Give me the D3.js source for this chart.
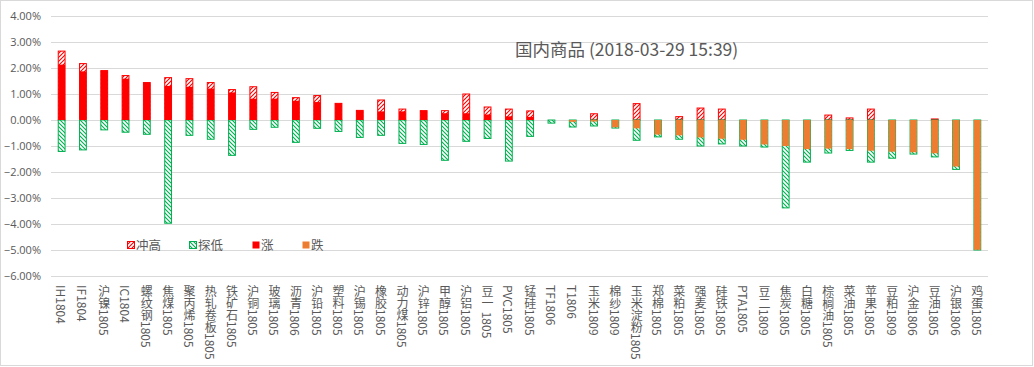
<!DOCTYPE html>
<html><head><meta charset="utf-8">
<script src="https://cdn.jsdelivr.net/npm/d3@7"></script>
<style>
html,body{margin:0;padding:0;background:#fff;}
svg{display:block;font-family:"Noto Sans CJK SC","Noto Sans",sans-serif;}
</style></head>
<body>
<svg id="chart" width="1034" height="367"></svg>
<script>
const categories = ["IH1804","IF1804","沪镍1805","IC1804","螺纹钢1805","焦煤1805","聚丙烯1805","热轧卷板1805","铁矿石1805","沪铜1805","玻璃1805","沥青1806","沪铅1805","塑料1805","沪锡1805","橡胶1805","动力煤1805","沪锌1805","甲醇1805","沪铝1805","豆一 1805","PVC1805","锰硅1805","TF1806","T1806","玉米1809","棉纱1809","玉米淀粉1805","郑棉1805","菜粕1805","强麦1805","硅铁1805","PTA1805","豆二1809","焦炭1805","白糖1805","棕榈油1805","菜油1805","苹果1805","豆粕1809","沪金1806","豆油1805","沪银1806","鸡蛋1805"];
// 冲高 (high, %)
const highVals = [2.65,2.17,1.90,1.71,1.44,1.63,1.59,1.44,1.17,1.28,1.06,0.86,0.94,0.64,0.37,0.77,0.42,0.36,0.36,1.00,0.50,0.42,0.35,0,0,0.24,0,0.63,0,0.13,0.46,0.42,0,0,0,0,0.19,0.08,0.42,0,0,0.04,0,0];
// 探低 (low, %)
const lowVals = [-1.21,-1.15,-0.38,-0.47,-0.55,-3.97,-0.59,-0.74,-1.36,-0.36,-0.28,-0.86,-0.32,-0.44,-0.67,-0.59,-0.90,-0.94,-1.55,-0.82,-0.71,-1.58,-0.63,-0.12,-0.27,-0.23,-0.31,-0.78,-0.65,-0.74,-1.00,-0.92,-1.00,-1.04,-3.38,-1.62,-1.27,-1.17,-1.62,-1.47,-1.31,-1.42,-1.90,-5.00];
// 涨 / 跌 (close change, %)
const changeVals = [2.13,1.87,1.90,1.59,1.44,1.31,1.28,1.21,1.06,0.82,0.82,0.74,0.69,0.64,0.37,0.33,0.33,0.36,0.26,0.26,0.21,0.14,0.12,0,-0.07,-0.06,-0.28,-0.32,-0.56,-0.59,-0.67,-0.72,-0.76,-0.94,-1.00,-1.12,-1.10,-1.12,-1.18,-1.22,-1.24,-1.28,-1.79,-4.99];
const riseVals = changeVals.map(v => v > 0 ? v : 0);
const fallVals = changeVals.map(v => v < 0 ? v : 0);
const yTicks = [4,3,2,1,0,-1,-2,-3,-4,-5,-6];
const legendItems = ["冲高","探低","涨","跌"];
const titleText = "国内商品 (2018-03-29 15:39)";

const svg = d3.select("#chart");
const W = 1034, H = 367;
const m = {left:51, right:988, top:16, bottom:276};

svg.append("rect").attr("x",0.5).attr("y",0.5).attr("width",W-2).attr("height",H-2)
  .attr("fill","#fff").attr("stroke","#D9D9D9");

const defs = svg.append("defs");
function hatch(id, color, dir){
  const p = defs.append("pattern").attr("id",id).attr("patternUnits","userSpaceOnUse")
    .attr("width",4).attr("height",4);
  p.append("rect").attr("width",4).attr("height",4).attr("fill","#fff");
  if(dir>0){
    p.append("path").attr("d","M-1,1 L1,-1 M0,4 L4,0 M3,5 L5,3").attr("stroke",color).attr("stroke-width",1.1);
  } else {
    p.append("path").attr("d","M-1,3 L1,5 M0,0 L4,4 M3,-1 L5,1").attr("stroke",color).attr("stroke-width",1.1);
  }
}
hatch("hUp","#FF0000",1);
hatch("hDn","#00B050",-1);

const x = d3.scaleBand().domain(categories).range([m.left, m.right]).paddingInner(0.68).paddingOuter(0.34);
const y = d3.scaleLinear().domain([-6,4]).range([m.bottom, m.top]);

// gridlines
svg.append("g").selectAll("line").data(yTicks).join("line")
  .attr("x1",m.left).attr("x2",m.right)
  .attr("y1",d=>Math.round(y(d))+0.5).attr("y2",d=>Math.round(y(d))+0.5)
  .attr("stroke","#D9D9D9").attr("stroke-width",1);

// y axis labels
const yAxis = d3.axisLeft(y).tickValues(yTicks).tickSize(0).tickPadding(0)
  .tickFormat(d => d3.format(".2f")(d) + "%");
const ya = svg.append("g").attr("transform",`translate(${m.left-10},0)`).call(yAxis);
ya.select(".domain").remove();
ya.selectAll("text").attr("fill","#595959").attr("font-size",11).attr("font-family","'Open Sans','Noto Sans CJK SC',sans-serif");

const bw = x.bandwidth();
function bars(vals, fill, stroke, cls){
  svg.append("g").selectAll("rect").data(vals.map((v,i)=>({v,c:categories[i]})).filter(d=>d.v!==0)).join("rect")
    .attr("class",cls)
    .attr("x",d=>x(d.c)).attr("width",bw)
    .attr("y",d=>Math.min(y(d.v),y(0))).attr("height",d=>Math.abs(y(d.v)-y(0)))
    .attr("fill",fill).attr("stroke",stroke).attr("stroke-width",stroke==="none"?0:1);
}
bars(highVals,"url(#hUp)","#FF0000","high");
bars(lowVals,"url(#hDn)","#00B050","low");
bars(riseVals,"#FF0000","none","rise");
bars(fallVals,"#ED7D31","none","fall");

// x labels vertical
svg.append("g").selectAll("text").data(categories).join("text")
  .attr("x",d=>x(d)+bw/2).attr("y",285)
  .attr("writing-mode","vertical-rl")
  .style("text-orientation","mixed")
  .attr("font-size",12).attr("fill","#595959")
  .text(d=>d);

// title
svg.append("text").attr("x",515).attr("y",56).attr("font-size",17.5).attr("fill","#595959")
  .text(titleText);

// legend
const legendX = [127,189,252,302];
const lg = svg.append("g");
legendItems.forEach((t,i)=>{
  const fills = ["url(#hUp)","url(#hDn)","#FF0000","#ED7D31"];
  const strokes = ["#FF0000","#00B050","none","none"];
  lg.append("rect").attr("x",legendX[i]+0.5).attr("y",241.5).attr("width",7).attr("height",7)
    .attr("fill",fills[i]).attr("stroke",strokes[i]).attr("stroke-width",strokes[i]==="none"?0:1);
  lg.append("text").attr("x",legendX[i]+9).attr("y",250).attr("font-size",12.5).attr("fill","#595959").text(t);
});
</script>
</body></html>
